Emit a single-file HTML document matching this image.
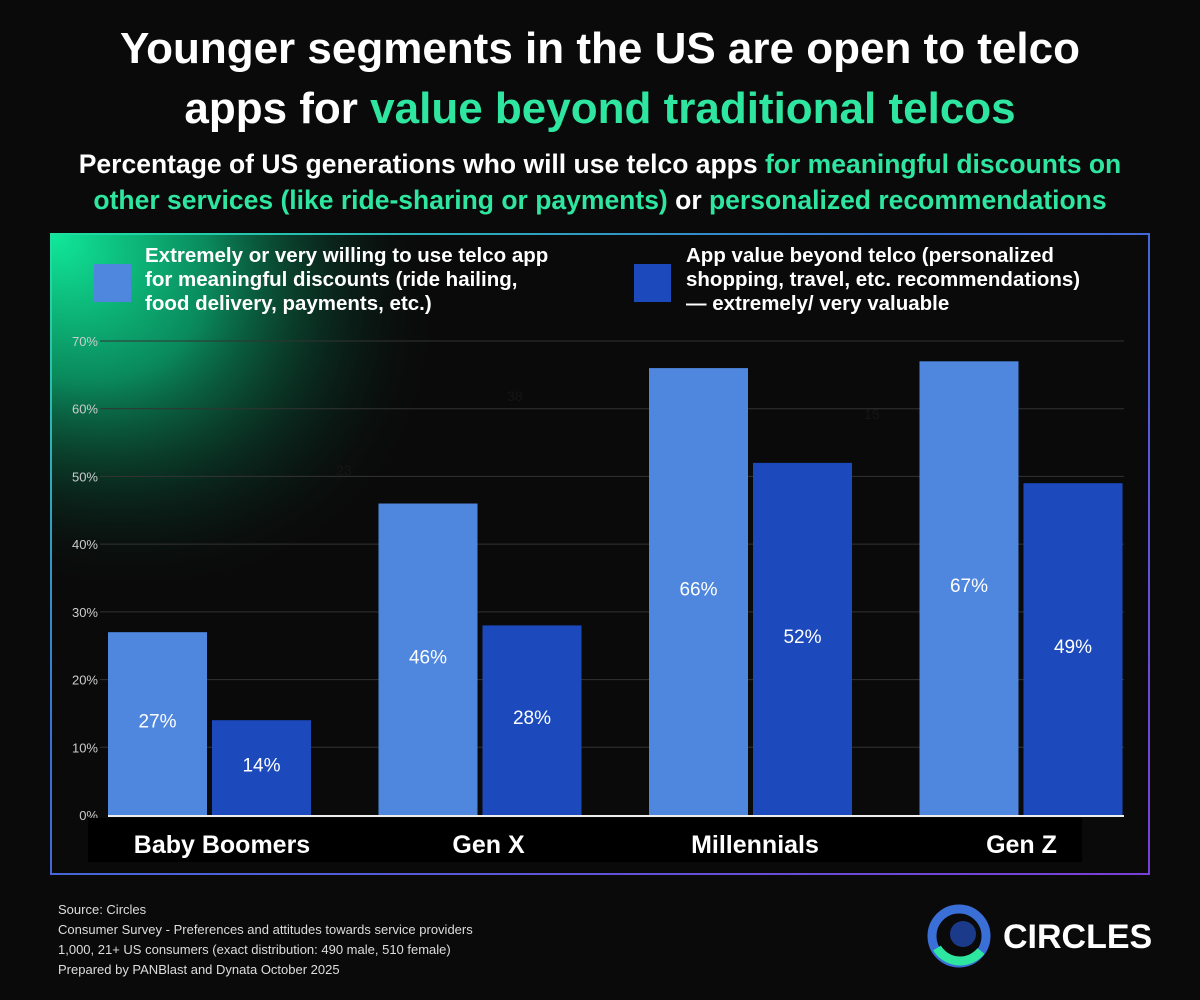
<!DOCTYPE html>
<html><head><meta charset="utf-8"><style>
body{margin:0;background:#0a0a0a;width:1200px;height:1000px;overflow:hidden;font-family:"Liberation Sans",sans-serif;color:#fff;position:relative}
.t{position:absolute;left:0;width:1200px;text-align:center;font-weight:bold}
.g{color:#2ee6a0}
</style></head><body>
<div class="t" style="top:19px;font-size:44px;line-height:60px">Younger segments in the US are open to telco<br>apps for <span class="g">value beyond traditional telcos</span></div>
<div class="t" style="top:146px;font-size:26.5px;line-height:36px">Percentage of US generations who will use telco apps <span class="g">for meaningful discounts on<br>other services (like ride-sharing or payments)</span> or <span class="g">personalized recommendations</span></div>
<svg width="1200" height="1000" style="position:absolute;left:0;top:0">
<defs>
<linearGradient id="bd" x1="0" y1="0" x2="1" y2="1"><stop offset="0" stop-color="#1fe0a0"/><stop offset="0.4" stop-color="#3a6fd8"/><stop offset="1" stop-color="#7a3fd8"/></linearGradient>
<radialGradient id="glow" cx="0" cy="0" r="1" gradientUnits="userSpaceOnUse" gradientTransform="translate(52,235) rotate(35) scale(420,330)"><stop offset="0" stop-color="#10e89a"/><stop offset="0.4" stop-color="#0a8a5c"/><stop offset="1" stop-color="#0a0a0a" stop-opacity="0"/></radialGradient>
</defs>
<rect x="51" y="234" width="1098" height="640" fill="#0a0a0a" stroke="url(#bd)" stroke-width="2"/>
<rect x="52" y="235" width="500" height="400" fill="url(#glow)"/>
<g id="legend">
<rect x="94" y="264" width="37" height="38" fill="#4f86de"/>
<text x="145" y="262" font-size="20.5" font-weight="bold" fill="#fff"><tspan x="145">Extremely or very willing to use telco app</tspan><tspan x="145" dy="24">for meaningful discounts (ride hailing,</tspan><tspan x="145" dy="24">food delivery, payments, etc.)</tspan></text>
<rect x="634" y="264" width="37" height="38" fill="#1c4abd"/>
<text x="686" y="262" font-size="20.5" font-weight="bold" fill="#fff"><tspan x="686">App value beyond telco (personalized</tspan><tspan x="686" dy="24">shopping, travel, etc. recommendations)</tspan><tspan x="686" dy="24">— extremely/ very valuable</tspan></text>
</g>
<g id="plot"></g>
<rect x="88" y="818" width="994" height="44" fill="#000"/>
<g id="cats"></g>
<text x="336" y="475" font-size="14" fill="#151515">23</text>
<text x="507" y="401" font-size="14" fill="#151515">38</text>
<text x="864" y="419" font-size="14" fill="#151515">15</text>
</svg>
<div style="position:absolute;left:58px;top:900px;font-size:13px;line-height:20px;color:#ddd">Source: Circles<br>Consumer Survey - Preferences and attitudes towards service providers<br>1,000, 21+ US consumers (exact distribution: 490 male, 510 female)<br>Prepared by PANBlast and Dynata October 2025</div>
<svg width="240" height="70" style="position:absolute;left:925px;top:903px">
<circle cx="34" cy="33" r="27" fill="none" stroke="#3a6fd8" stroke-width="9"/>
<path d="M12 45 A27 27 0 0 0 56 48" fill="none" stroke="#2ee6a0" stroke-width="9"/>
<circle cx="38" cy="31" r="13" fill="#1c3a8a"/>
<text x="78" y="45" font-size="34" font-weight="bold" fill="#fff" font-family="Liberation Sans, sans-serif">CIRCLES</text>
</svg>
<script>
const categories=["Baby Boomers","Gen X","Millennials","Gen Z"];
const discounts=[27,46,66,67];
const valueBeyond=[14,28,52,49];
const ticks=[0,10,20,30,40,50,60,70];
const NS="http://www.w3.org/2000/svg";
const y0=815,pxPer=474/70,x0=108,gw=270.5,bw=99;
const y=v=>y0-v*pxPer;
const plot=document.getElementById('plot'),cats=document.getElementById('cats');
function mk(tag,a,p){const e=document.createElementNS(NS,tag);for(const k in a)e.setAttribute(k,a[k]);p.appendChild(e);return e;}
ticks.forEach(t=>{
 if(t>0){const l=mk('line',{x1:100,x2:1124,y1:y(t),y2:y(t),stroke:'#333','stroke-width':1},plot);
 
 }
 const tx=mk('text',{x:98,y:y(t)+5,'text-anchor':'end','font-size':13,fill:'#ccc'},plot);tx.textContent=t+'%';
 
 
});
categories.forEach((c,i)=>{
 [[discounts,'#4f86de',0,'discounts'],[valueBeyond,'#1c4abd',104,'value-beyond']].forEach(([arr,col,off,nm])=>{
  const v=arr[i],bx=x0+i*gw+off;
  const r=mk('rect',{x:bx,y:y(v),width:bw,height:y0-y(v),fill:col},plot);
  
  
  const t=mk('text',{x:bx+bw/2,y:(y(v)+y0)/2+4,'text-anchor':'middle','font-size':19,fill:'#fff'},plot);t.textContent=v+'%';
  
  
 });
 const ct=mk('text',{x:x0+i*gw+114-i*4,y:853,'text-anchor':'middle','font-size':25,'font-weight':'bold',fill:'#fff'},cats);ct.textContent=c;
 
 
});
const ax=mk('line',{x1:108,x2:1124,y1:y0+1,y2:y0+1,stroke:'#eee','stroke-width':2},plot);


</script>
</body></html>
